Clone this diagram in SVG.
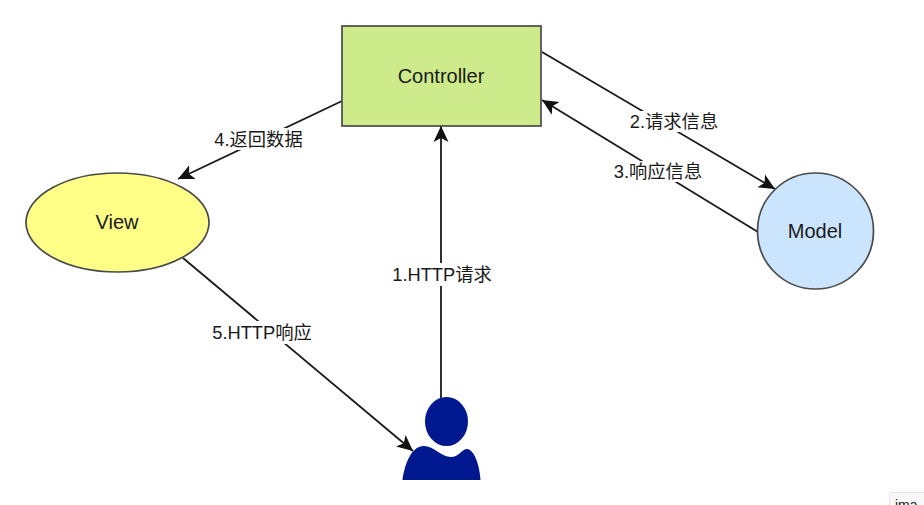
<svg xmlns="http://www.w3.org/2000/svg" width="924" height="505" viewBox="0 0 924 505">
<style>
text{font-family:"Liberation Sans","Noto Sans CJK SC",Arial,sans-serif;font-size:18.300px;fill:#1a1a1a;text-anchor:middle}
.t{font-size:20px}
.n{stroke:#4a4a4a;stroke-width:1.7}
.c{fill:none;stroke:#1a1a1a;stroke-width:1.800;marker-end:url(#a)}
.l{fill:#fff;stroke:none}
</style>
<defs>
<marker id="a" markerUnits="userSpaceOnUse" markerWidth="18" markerHeight="16" refX="16" refY="7.500" orient="auto" viewBox="0 0 18 15">
<path d="M0 0L16 7.500L0 15L4 7.500Z" fill="#111"/>
</marker>
</defs>
<rect width="924" height="505" fill="#fff"/>
<g id="connectors">
<path class="c" d="M441 398V126"/>
<path class="c" d="M542 52L775 189"/>
<path class="c" d="M758 232L542 100"/>
<path class="c" d="M342 101L178 179"/>
<path class="c" d="M183 258L413 451"/>
</g>
<g id="controller"><rect class="n" x="342" y="26" width="199" height="100" fill="#cdeb8b"/><text class="t" x="441" y="83">Controller</text></g>
<g id="view"><ellipse class="n" cx="117.500" cy="222.500" rx="91.500" ry="49.500" fill="#ffff88"/><text class="t" x="117" y="229">View</text></g>
<g id="model"><circle class="n" cx="815.500" cy="231" r="58" fill="#cce5ff"/><text class="t" x="815" y="238">Model</text></g>
<g id="user"><ellipse cx="446.500" cy="421.500" rx="21.500" ry="24.500" fill="#00188f"/><path d="M402.500 480C404 468 410 446 424 446C434 446 441 457 451 457C459 457 462 449 467 449C474 449 480 466 480.500 480Z" fill="#00188f"/></g>
<g id="labels">
<rect class="l" x="392" y="263" width="100" height="23"/><text x="442" y="281">1.HTTP请求</text>
<rect class="l" x="630" y="111" width="88" height="21"/><text x="674" y="128">2.请求信息</text>
<rect class="l" x="613" y="161" width="89" height="21"/><text x="658" y="178">3.响应信息</text>
<rect class="l" x="214" y="128" width="89" height="22"/><text x="258.500" y="146">4.返回数据</text>
<rect class="l" x="212" y="321" width="100" height="23"/><text x="262" y="339">5.HTTP响应</text>
</g>
<g id="corner"><rect x="889.500" y="492.500" width="40" height="20" rx="3" fill="#f8f8f8" stroke="#e4e4e4"/><text x="895" y="510" style="text-anchor:start;font-size:14px">ima</text></g>
</svg>
